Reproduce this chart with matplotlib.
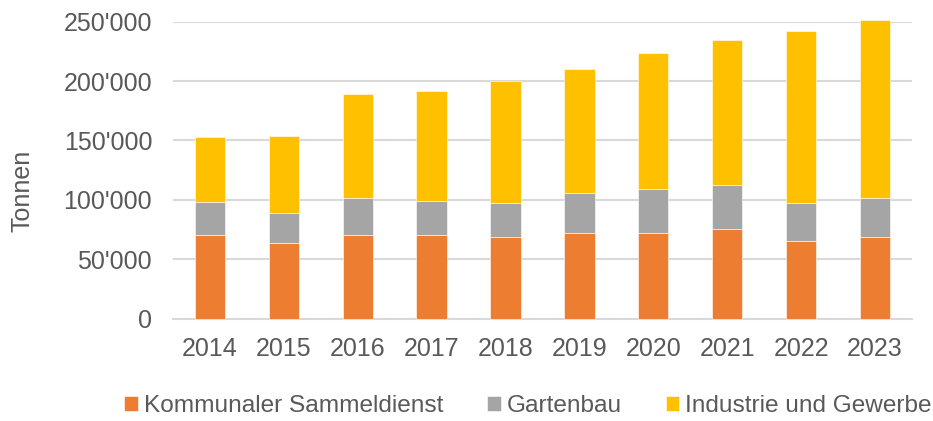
import matplotlib.pyplot as plt
import numpy as np
from matplotlib.ticker import FuncFormatter

years = ["2014", "2015", "2016", "2017", "2018", "2019", "2020", "2021", "2022", "2023"]
kommunal = [70200, 63500, 70200, 70200, 69000, 71900, 71900, 75800, 65100, 69000]
gartenbau = [27800, 25200, 31700, 28900, 28600, 33600, 37500, 36700, 32000, 32900]
industrie = [54900, 65300, 87200, 92600, 102500, 104700, 114500, 122100, 145100, 149500]

series_names = ["Kommunaler Sammeldienst", "Gartenbau", "Industrie und Gewerbe"]
colors = ["#ED7D31", "#A5A5A5", "#FFC000"]

plt.rcParams["font.family"] = ["Liberation Sans", "DejaVu Sans"]
text_color = "#595959"
fs = 18

fig = plt.figure(figsize=(9.33, 4.21), dpi=100)
ax = fig.add_axes([0.1854, 0.243, 0.792, 0.7055])

x = np.arange(len(years))
bottom = np.zeros(len(years))
for name, vals, col in zip(series_names, [kommunal, gartenbau, industrie], colors):
    ax.bar(x, vals, width=0.41, bottom=bottom, color=col, label=name,
           edgecolor="white", linewidth=0.4, zorder=3, clip_on=False)
    bottom += np.array(vals)

ax.set_xlim(-0.5, len(years) - 0.5)
ax.set_ylim(0, 250000)
ax.set_yticks(np.arange(0, 250001, 50000))
ax.yaxis.set_major_formatter(FuncFormatter(lambda v, p: f"{int(v):,}".replace(",", "'")))
ax.set_xticks(x)
ax.set_xticklabels(years)
ax.grid(axis="y", color="#d9d9d9", linewidth=1.5, zorder=0)
for s in ["top", "right", "left"]:
    ax.spines[s].set_visible(False)
ax.spines["bottom"].set_color("#d9d9d9")
ax.spines["bottom"].set_linewidth(1.5)
ax.tick_params(axis="both", length=0, labelsize=fs, colors=text_color)
ax.tick_params(axis="y", pad=15)
ax.tick_params(axis="x", pad=13)

fig.text(22 / 933, 1 - 191 / 421, "Tonnen", rotation=90, ha="center", va="center",
         fontsize=fs, color=text_color)

fig.legend(loc="center", bbox_to_anchor=(528 / 933, 1 - 406 / 421), ncol=3, frameon=False,
           fontsize=17.6, labelcolor=text_color, handlelength=0.55, handleheight=0.55,
           handletextpad=0.25, columnspacing=1.8, borderaxespad=0, borderpad=0)

fig.savefig("out.png", dpi=100)
